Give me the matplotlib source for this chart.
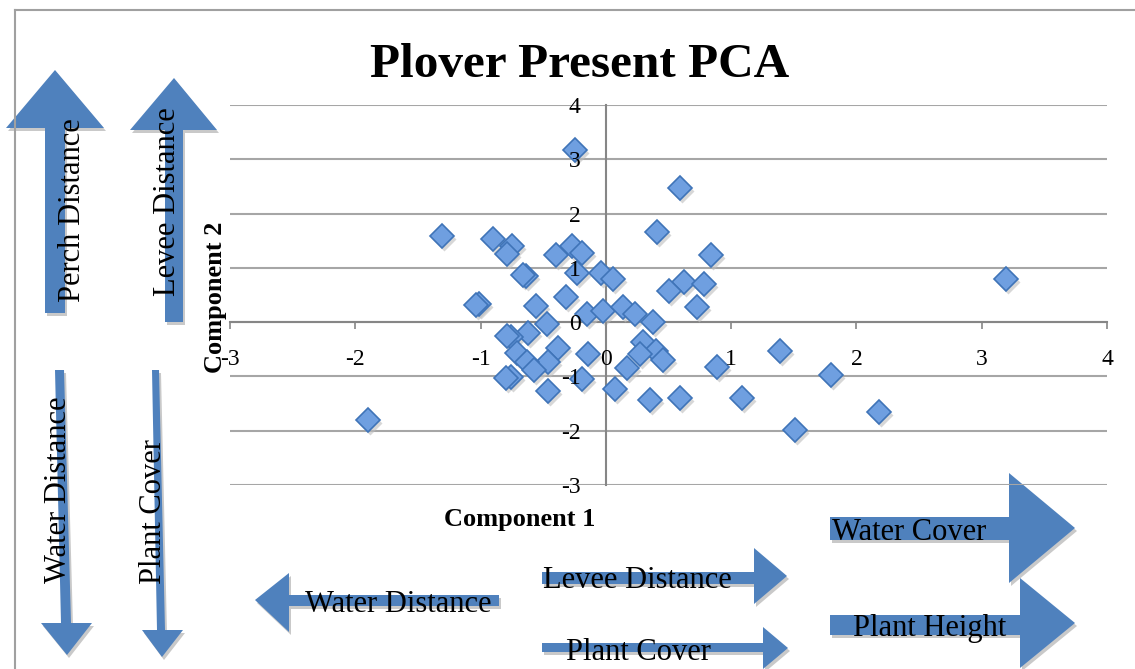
import numpy as np
import matplotlib
matplotlib.use("Agg")
import matplotlib.pyplot as plt
import matplotlib.transforms as mtransforms
from matplotlib.patches import Polygon

plt.rcParams["axes.unicode_minus"] = False

# PCA scores
comp1 = [-0.25, 0.59, -1.31, -0.90, -0.75, -0.79, -0.40, -0.27, -0.19, -0.23,
         -0.04, 0.06, -0.64, -0.66, -0.32, -1.01, -1.04, -0.56, -0.15, -0.02,
         0.14, 0.235, 0.41, 0.84, 0.62, 0.78, 0.50, 0.73, 0.38, -0.47,
         -0.62, -0.76, -0.79, -0.38, -0.71, -0.14, -0.46, -0.63, -0.57, -0.76,
         -0.80, -0.19, -0.46, 0.07, 0.30, 0.40, 0.275, 0.46, 0.17, 0.355,
         0.59, 0.89, 1.39, 1.80, 1.087, 1.51, 2.18, 3.19, -1.90]
comp2 = [3.17, 2.48, 1.58, 1.54, 1.40, 1.25, 1.23, 1.41, 1.28, 0.90,
         0.90, 0.79, 0.85, 0.87, 0.47, 0.33, 0.31, 0.29, 0.15, 0.21,
         0.27, 0.15, 1.66, 1.23, 0.74, 0.70, 0.57, 0.27, 0.00, -0.04,
         -0.20, -0.28, -0.25, -0.48, -0.56, -0.59, -0.73, -0.73, -0.89, -1.01,
         -1.03, -1.05, -1.26, -1.24, -0.37, -0.53, -0.59, -0.69, -0.84, -1.44,
         -1.39, -0.83, -0.53, -0.98, -1.40, -1.99, -1.65, 0.80, -1.80]
ticks = [-3, -2, -1, 0, 1, 2, 3, 4]

W, H = 1135, 669
BLUE = "#4f81bd"
SERIF = "Liberation Serif"

fig = plt.figure(figsize=(W / 100, H / 100), dpi=100)

# overlay in pixel coordinates for the frame and the loading arrows
ov = fig.add_axes([0, 0, 1, 1], zorder=0)
ov.set_xlim(0, W)
ov.set_ylim(H, 0)
ov.axis("off")

ov.plot([15, 15], [10, H], color="#a0a0a0", lw=1.5)
ov.plot([15, W], [10, 10], color="#a0a0a0", lw=1.5)

arrows = {
    "perch_up": [(45, 313), (45, 128), (6, 128), (55, 70), (104, 128), (65, 128), (65, 313)],
    "levee_up": [(165, 322), (165, 130), (130, 130), (174, 78), (217, 130), (183, 130), (183, 322)],
    "water_down": [(55, 370), (64, 370), (71, 623), (92, 623), (67, 655), (41, 623), (61, 623)],
    "plant_down": [(152, 370), (159, 370), (165, 630), (183, 630), (162, 657), (142, 630), (157, 630)],
    "water_left": [(499, 595), (499, 606), (289, 606), (289, 632), (255, 600), (289, 573), (289, 595)],
    "levee_right": [(542, 572), (754, 572), (754, 548), (787, 576), (754, 604), (754, 584), (542, 584)],
    "plant_right": [(542, 643), (763, 643), (763, 627), (788, 648), (763, 669), (763, 652), (542, 652)],
    "wcover_right": [(830, 517), (1009, 517), (1009, 473), (1075, 528), (1009, 583), (1009, 540), (830, 540)],
    "height_right": [(830, 615), (1020, 615), (1020, 578), (1075, 623), (1020, 668), (1020, 635), (830, 635)],
}
for pts in arrows.values():
    sh = [(x + 2, y + 3) for x, y in pts]
    ov.add_patch(Polygon(sh, closed=True, facecolor="#c9c9c9", edgecolor="none"))
    ov.add_patch(Polygon(pts, closed=True, facecolor=BLUE, edgecolor="none"))

# (text, baseline x/y anchor, rotation)
labels = [
    ("Perch Distance", 80, 210, 90),
    ("Levee Distance", 175, 202, 90),
    ("Water Distance", 66, 490, 90),
    ("Plant Cover", 161, 512, 90),
    ("Water Distance", 398, 612, 0),
    ("Levee Distance", 637, 588, 0),
    ("Plant Cover", 638, 660, 0),
    ("Water Cover", 909, 540, 0),
    ("Plant Height", 930, 636, 0),
]
for txt, x, y, rot in labels:
    ov.text(x, y, txt, rotation=rot, rotation_mode="anchor", ha="center",
            va="baseline", family=SERIF, fontsize=22, color="black")

ov.text(580, 77, "Plover Present PCA", ha="center", va="baseline",
        family=SERIF, fontweight="bold", fontsize=35.5)
ov.text(520, 526, "Component 1", ha="center", va="baseline",
        family=SERIF, fontweight="bold", fontsize=19)
ov.text(222, 297, "Component 2", ha="center", va="baseline", rotation=90,
        rotation_mode="anchor", family=SERIF, fontweight="bold", fontsize=19)

# scatter axes
ax = fig.add_axes([230 / W, 1 - 485 / H, 877 / W, 380 / H], zorder=1)
ax.set_facecolor("none")
ax.set_xlim(-3, 4)
ax.set_ylim(-3, 4)
ax.set_xticks(ticks)
ax.set_yticks(ticks)
ax.set_axisbelow(False)  # tick labels sit on top of the markers
for t in ticks:
    ax.axhline(t, color="#a6a6a6", lw=1.5, zorder=0.5)

for s in ["top", "right"]:
    ax.spines[s].set_visible(False)
ax.spines["left"].set_position(("data", 0))
ax.spines["bottom"].set_position(("data", 0))
for s in ["left", "bottom"]:
    ax.spines[s].set_color("#868686")
    ax.spines[s].set_linewidth(1.5)
    ax.spines[s].set_zorder(1)

ax.tick_params(axis="x", direction="out", length=5, width=1.2, color="#868686", pad=14)
ax.tick_params(axis="y", direction="out", length=0, pad=18)
for lab in ax.get_xticklabels() + ax.get_yticklabels():
    lab.set_fontfamily(SERIF)
    lab.set_fontsize(17)

shadow = ax.transData + mtransforms.ScaledTranslation(2 / 100, -3 / 100, fig.dpi_scale_trans)
ax.plot(comp1, comp2, "D", ms=12.5, color="#bdbdbd", alpha=0.6,
        mec="none", transform=shadow, clip_on=False, zorder=1.5)
ax.plot(comp1, comp2, "D", ms=12.5, mfc="#6f9fe0", mec="#3f74b8", mew=1.2,
        clip_on=False, zorder=2)

fig.savefig("out.png", dpi=100)
